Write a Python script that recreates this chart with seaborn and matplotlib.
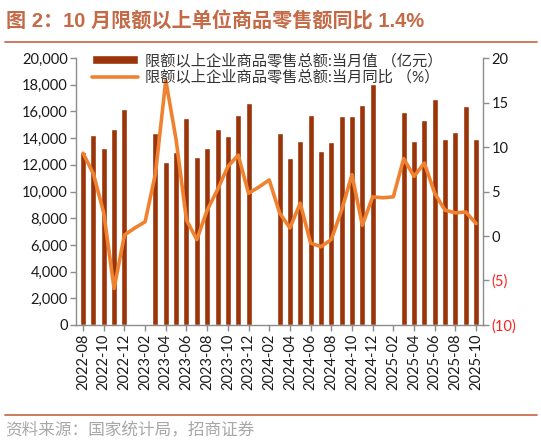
import numpy as np
import pandas as pd
import matplotlib
matplotlib.use("Agg")
import matplotlib.pyplot as plt
from matplotlib.ticker import FuncFormatter, MultipleLocator
import seaborn as sns

sns.set_style("white")
plt.rcParams['font.family'] = ['Lato', 'Noto Sans CJK SC', 'DejaVu Sans']

#----------------------------------
# data
#----------------------------------
months = [f"{y}-{m:02d}" for y, m in
          [(2022, m) for m in range(8, 13)] +
          [(2023, m) for m in range(1, 13)] +
          [(2024, m) for m in range(1, 13)] +
          [(2025, m) for m in range(1, 11)]]

# monthly value (亿元), Jan/Feb not published
sales = [12980, 14230, 13280, 14700, 16180,
         np.nan, np.nan, 14360, 12190, 12935, 15500, 12600, 13280, 14700, 14130, 15700, 16650,
         np.nan, np.nan, 14360, 12530, 13780, 15700, 13060, 13680, 15630, 15650, 16450, 18070,
         np.nan, np.nan, 15930, 13760, 15330, 16930, 13910, 14480, 16430, 13910]

# yoy (%)
yoy = [9.3, 7.0, 2.6, -5.9, 0.1,
       0.9, 1.6, 7.0, 17.5, 10.8, 1.8, -0.4, 2.9, 5.2, 7.8, 9.1, 4.8,
       5.5, 6.3, 2.6, 0.9, 3.7, -0.8, -1.2, -0.4, 2.9, 6.9, 1.2, 4.4,
       4.3, 4.4, 8.7, 6.7, 8.2, 4.8, 2.9, 2.6, 2.7, 1.4]

bar_label = "限额以上企业商品零售总额:当月值 （亿元）"
line_label = "限额以上企业商品零售总额:当月同比 （%）"

df = pd.DataFrame({"month": months, "sales": sales, "yoy": yoy})

bar_color = "#9B3409"
line_color = "#F0822F"
axis_color = "#8C8C8C"
rule_color = "#C9704F"

#----------------------------------
# figure
#----------------------------------
fig = plt.figure(figsize=(5.41, 4.43), dpi=100)
ax = fig.add_axes([0.1405, 0.2664, 0.7525, 0.6026])

sns.barplot(data=df, x="month", y="sales", order=months, color=bar_color,
            width=0.58, saturation=1, ax=ax, label=bar_label)
if ax.get_legend() is not None:
    ax.get_legend().remove()

ax2 = ax.twinx()
sns.lineplot(x=np.arange(len(months)), y=df["yoy"], color=line_color,
             linewidth=2.6, ax=ax2, label=line_label, legend=False)
ax2.lines[0].set_solid_joinstyle("round")
ax2.lines[0].set_solid_capstyle("round")

ax.set_xlim(-0.68, len(months) - 1 + 0.68)
ax.set_ylim(0, 20000)
ax2.set_ylim(-10, 20)

ax.yaxis.set_major_locator(MultipleLocator(2000))
ax.yaxis.set_major_formatter(FuncFormatter(lambda v, p: f"{int(v):,}"))
ax2.yaxis.set_major_locator(MultipleLocator(5))
ax2.yaxis.set_major_formatter(FuncFormatter(
    lambda v, p: f"({abs(int(v))})" if v < 0 else f"{int(v)}"))

ax.set_xticks(range(0, len(months), 2))
ax.set_xticklabels(months[::2], rotation=90)
ax.set_xlabel("")
ax.set_ylabel("")
ax2.set_ylabel("")

for a in (ax, ax2):
    for s in a.spines.values():
        s.set_color(axis_color)
        s.set_linewidth(1.0)
    a.spines["top"].set_visible(False)
    a.tick_params(colors=axis_color, length=4, width=1.0, labelsize=10.5,
                  labelcolor="#1a1a1a", direction="out")
ax.spines["right"].set_visible(False)
ax2.spines["left"].set_visible(False)
ax2.spines["bottom"].set_visible(False)
ax.tick_params(axis="y", left=True, pad=2)
ax.tick_params(axis="x", bottom=True, pad=2)
ax2.tick_params(axis="y", right=True, pad=2)

for lbl in ax2.get_yticklabels():
    if lbl.get_text().startswith("("):
        lbl.set_color("#FF2020")

# legend (on the top axes so it sits over the line)
h1, l1 = ax.get_legend_handles_labels()
h2, l2 = ax2.get_legend_handles_labels()
leg = ax2.legend(h1 + h2, l1 + l2, loc="upper left", bbox_to_anchor=(0.025, 1.04),
                 frameon=False, fontsize=11, handlelength=3.0, handleheight=0.5,
                 labelspacing=0.12, borderaxespad=0, handletextpad=0.45)
for t in leg.get_texts():
    t.set_color("#333333")

#----------------------------------
# title, rules, source
#----------------------------------
fig.text(0.012, 0.951, "图 2：10 月限额以上单位商品零售额同比 1.4%",
         fontsize=14.5, fontweight="bold", color="#C46A47",
         family=['Liberation Sans', 'Noto Sans CJK SC'], va="center")
fig.add_artist(plt.Line2D([0.009, 0.993], [0.905, 0.905], color=rule_color, lw=1.3))
fig.add_artist(plt.Line2D([0.009, 0.993], [0.063, 0.063], color=rule_color, lw=1.3))
fig.text(0.01, 0.027, "资料来源：国家统计局，招商证券", fontsize=12,
         color="#A8A8A8", va="center",
         family=['Noto Sans CJK SC', 'DejaVu Sans'], fontweight="light")

fig.savefig("out.png", dpi=100)
